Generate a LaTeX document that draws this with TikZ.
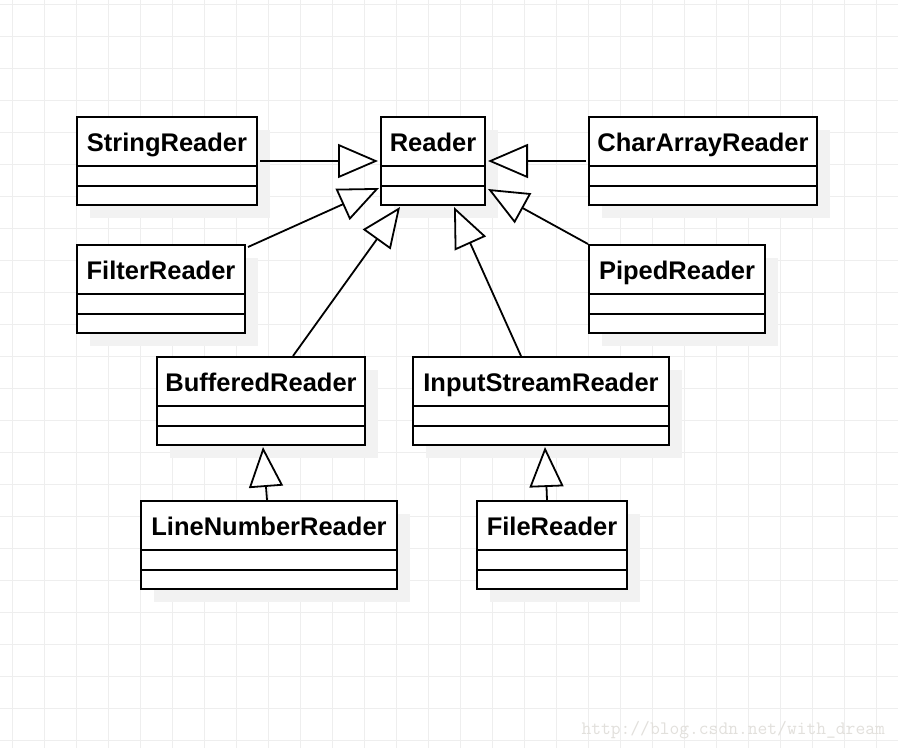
\documentclass[tikz,border=0pt]{standalone}
\usepackage{fontspec}
\setmainfont{Liberation Sans}
\usepackage{xcolor}
\usepackage{tikz}
\usetikzlibrary{calc,arrows.meta}
\definecolor{gridgray}{RGB}{238,238,238}
\definecolor{shadowgray}{RGB}{242,242,242}
\definecolor{markgray}{RGB}{226,224,220}
\tikzset{grid line/.style={draw=gridgray,line width=1pt},class shadow/.style={fill=shadowgray},
  class box/.style={draw,fill=white,line width=2pt,rectangle,inner sep=0pt,minimum height=88pt,
    text height=34pt,text depth=54pt,font=\fontsize{25.5}{30}\selectfont\bfseries},
  class line/.style={line width=2pt},
  extends/.style={line width=1.8pt,-{Triangle[length=40pt,width=34pt,fill=white]}},
  watermark/.style={text=markgray,font=\fontsize{19}{22}\selectfont\ttfamily}}
\newcommand\umlclass[5]{%
  \fill[class shadow] (#2+14,#3+14) rectangle ++(#4,88);
  \node[class box,minimum width=#4pt,anchor=north west] (#1) at (#2,#3) {#5};
  \draw[class line] ($(#1.north west)+(0,50)$) -- ($(#1.north east)+(0,50)$);
  \draw[class line] ($(#1.north west)+(0,70)$) -- ($(#1.north east)+(0,70)$);
}

\begin{document}
\begin{tikzpicture}[x=1pt,y=-1pt]
			\useasboundingbox (0,0) rectangle (898,748);
			\fill[white] (0,0) rectangle (898,748);
			\foreach \x in {12,44,...,876} \draw[grid line] (\x,0) -- (\x,748);
			\foreach \y in {4,36,...,740} \draw[grid line] (0,\y) -- (898,\y);

			\umlclass{reader}{380}{116}{104}{Reader}
			\umlclass{string}{76}{116}{180}{StringReader}
			\umlclass{chararray}{588}{116}{228}{CharArrayReader}
			\umlclass{filter}{76}{244}{168}{FilterReader}
			\umlclass{piped}{588}{244}{176}{PipedReader}
			\umlclass{buffered}{156}{356}{208}{BufferedReader}
			\umlclass{inputstream}{412}{356}{256}{InputStreamReader}
			\umlclass{linenumber}{140}{500}{256}{LineNumberReader}
			\umlclass{file}{476}{500}{150}{FileReader}

			\draw[extends,shorten <=2pt,shorten >=2pt] (string) -- (reader);
			\draw[extends,shorten <=2pt,shorten >=2pt] (chararray) -- (reader);
			\draw[extends] ($(filter.north east)+(2,3)$) -- ($(reader.south west)+(-1,-18)$);
			\draw[extends] ($(buffered.north)+(32,0)$) -- ($(reader.south west)+(20,1)$);
			\draw[extends] ($(inputstream.north)+(-20,0)$) -- ($(reader.south east)+(-32,1)$);
			\draw[extends] (piped.north west) -- ($(reader.south east)+(2,-17)$);
			\draw[extends] ($(linenumber.north)+(-2,0)$) -- ($(buffered.south)+(2,1)$);
			\draw[extends] ($(file.north)+(-5,0)$) -- ($(inputstream.south)+(4,1)$);

			\node[watermark,anchor=base west] (mark) at (578,734) {http://blog.csdn.net/with\_dream};
		\end{tikzpicture}
\end{document}
